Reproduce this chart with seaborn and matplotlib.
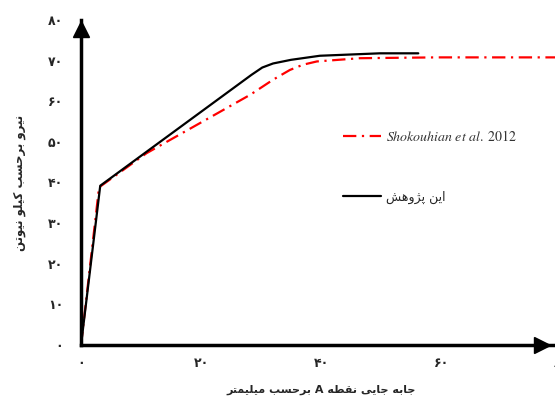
import numpy as np
import pandas as pd
import seaborn as sns
import matplotlib.pyplot as plt

# data (displacement in mm, force in kN)
this_x = [0, 3.2, 28.4, 30.2, 32, 35, 39.8, 49.8, 56.2]
this_y = [0, 39.2, 66.5, 68.3, 69.3, 70.2, 71.2, 71.8, 71.8]
shok_x = [0, 3.0, 10.9, 28.2, 32, 34.8, 37, 39.3, 46.5, 59.3, 79]
shok_y = [0, 38.8, 47.2, 61.6, 65.3, 67.7, 69.0, 69.8, 70.6, 70.8, 70.8]
x_ticks = [0, 20, 40, 60, 80]
y_ticks = [0, 10, 20, 30, 40, 50, 60, 70, 80]
fa_digits = '۰۱۲۳۴۵۶۷۸۹'

x_label = 'جابه جایی نقطه A برحسب میلیمتر'
y_label = 'نیرو برحسب کیلو نیوتن'
this_label = 'این پژوهش'
shok_label = r'$\mathit{Shokouhian\ et\ al.}\ \mathrm{2012}$'

# minimal persian shaping (isolated, final, initial, medial)
FORMS = {
    'ا': ('\uFE8D', '\uFE8E', None, None),
    'ب': ('\uFE8F', '\uFE90', '\uFE91', '\uFE92'),
    'پ': ('\uFB56', '\uFB57', '\uFB58', '\uFB59'),
    'ت': ('\uFE95', '\uFE96', '\uFE97', '\uFE98'),
    'ج': ('\uFE9D', '\uFE9E', '\uFE9F', '\uFEA0'),
    'ح': ('\uFEA1', '\uFEA2', '\uFEA3', '\uFEA4'),
    'ر': ('\uFEAD', '\uFEAE', None, None),
    'ژ': ('\uFB8A', '\uFB8B', None, None),
    'س': ('\uFEB1', '\uFEB2', '\uFEB3', '\uFEB4'),
    'ش': ('\uFEB5', '\uFEB6', '\uFEB7', '\uFEB8'),
    'ط': ('\uFEC1', '\uFEC2', '\uFEC3', '\uFEC4'),
    'ق': ('\uFED5', '\uFED6', '\uFED7', '\uFED8'),
    'ک': ('\uFB8E', '\uFB8F', '\uFB90', '\uFB91'),
    'ل': ('\uFEDD', '\uFEDE', '\uFEDF', '\uFEE0'),
    'م': ('\uFEE1', '\uFEE2', '\uFEE3', '\uFEE4'),
    'ن': ('\uFEE5', '\uFEE6', '\uFEE7', '\uFEE8'),
    'و': ('\uFEED', '\uFEEE', None, None),
    'ه': ('\uFEE9', '\uFEEA', '\uFEEB', '\uFEEC'),
    'ی': ('\uFEEF', '\uFEF0', '\uFEF3', '\uFEF4'),
}


def shape(text):
    out = []
    for i, ch in enumerate(text):
        if ch not in FORMS:
            out.append(ch)
            continue
        prev = text[i - 1] if i > 0 else ''
        nxt = text[i + 1] if i + 1 < len(text) else ''
        iso, fin, ini, med = FORMS[ch]
        join_prev = prev in FORMS and FORMS[prev][2] is not None
        join_next = nxt in FORMS and ini is not None
        if join_prev and join_next:
            out.append(med)
        elif join_prev:
            out.append(fin)
        elif join_next:
            out.append(ini)
        else:
            out.append(iso)
    return ''.join(reversed(out))


def fa_num(v):
    return ''.join(fa_digits[int(d)] for d in str(v))


sns.set_style('white')
plt.rcParams['font.family'] = ['DejaVu Sans']
plt.rcParams['mathtext.fontset'] = 'stix'

fig = plt.figure(figsize=(5.55, 4.01), dpi=100)
ax = fig.add_axes([0.146, 0.1397, 0.865, 0.8104])

sns.lineplot(x=shok_x, y=shok_y, ax=ax, color='red', lw=1.6,
             linestyle=(0, (6, 2.5, 1, 2.5)), label=shok_label)
sns.lineplot(x=this_x, y=this_y, ax=ax, color='black', lw=1.6, label=shape(this_label))

ax.set_xlim(0, 80)
ax.set_ylim(0, 80)
ax.set_xticks(x_ticks)
ax.set_yticks(y_ticks)
ax.set_xticklabels([fa_num(v) for v in x_ticks], fontsize=9, fontweight='bold')
ax.set_yticklabels([fa_num(v) for v in y_ticks], fontsize=9, fontweight='bold')
ax.tick_params(axis='y', direction='in', length=2.5, width=2.5, pad=13)
ax.tick_params(axis='x', direction='in', length=2.5, width=2.5, pad=9)

for side in ['top', 'right']:
    ax.spines[side].set_visible(False)
for side in ['left', 'bottom']:
    ax.spines[side].set_linewidth(2.5)
    ax.spines[side].set_color('black')
    ax.spines[side].set_clip_on(False)

# arrow heads on the axes
ax.plot(0, 0.972, marker='^', ms=12, color='black', transform=ax.transAxes, clip_on=False)
ax.plot(0.96, 0, marker='>', ms=12, color='black', transform=ax.transAxes, clip_on=False)

ax.set_xlabel(shape(x_label), fontsize=8, fontweight='bold', labelpad=10)
ax.set_ylabel(shape(y_label), fontsize=8.5, fontweight='bold', labelpad=16)

leg = ax.legend(loc='upper left', bbox_to_anchor=(0.546, 0.665), frameon=False,
                fontsize=10, handlelength=2.7, handletextpad=0.35,
                labelspacing=3.4, borderpad=0, borderaxespad=0)
leg.get_texts()[0].set_color('#333333')
leg.get_texts()[1].set_fontsize(9)

plt.savefig('out.png', dpi=100)
